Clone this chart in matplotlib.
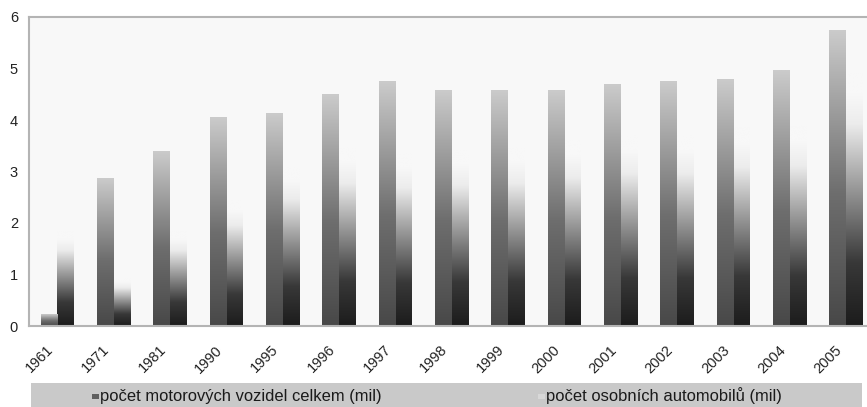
import numpy as np
import matplotlib
matplotlib.use("Agg")
import matplotlib.pyplot as plt
from matplotlib.colors import LinearSegmentedColormap
from matplotlib.patches import Rectangle
import matplotlib.transforms as mtransforms

plt.rcParams['font.family'] = ['Liberation Sans', 'DejaVu Sans']

years = ["1961", "1971", "1981", "1990", "1995", "1996", "1997", "1998",
         "1999", "2000", "2001", "2002", "2003", "2004", "2005"]
vozidla_celkem = [0.23, 2.87, 3.38, 4.04, 4.13, 4.49, 4.74, 4.58,
                  4.58, 4.58, 4.68, 4.74, 4.78, 4.97, 5.73]
osobni_auta = [1.84, 0.93, 1.84, 2.43, 3.07, 3.46, 3.34, 3.40,
               3.46, 3.60, 3.70, 3.70, 3.85, 3.90, 4.90]
legend_labels = ["počet motorových vozidel celkem (mil)",
                 "počet osobních automobilů (mil)"]

BG = "#f8f8f8"
cmap1 = LinearSegmentedColormap.from_list(
    "s1", [(0.0, "#484848"), (0.45, "#6e6e6e"), (1.0, "#cbcbcb")])
cmap2 = LinearSegmentedColormap.from_list(
    "s2", [(0.0, "#1c1c1c"), (0.25, "#383838"), (0.55, "#9a9a9a"),
           (0.8, "#ececec"), (0.92, BG), (1.0, BG)])

W, H = 867, 407
fig = plt.figure(figsize=(W / 100, H / 100), dpi=100)
fig.patch.set_facecolor("white")
ax = fig.add_axes([29 / W, (H - 326) / H, 845 / W, (326 - 17) / H])
ax.set_facecolor(BG)

grad = np.linspace(0, 1, 256).reshape(-1, 1)
bw = 0.29
x = np.arange(len(years))
for i in range(len(years)):
    for val, off, cm, z in ((vozidla_celkem[i], -bw / 2, cmap1, 3),
                            (osobni_auta[i], bw / 2, cmap2, 2)):
        x0 = x[i] + off - bw / 2
        ax.imshow(grad, extent=[x0, x0 + bw, 0, val], origin="lower",
                  aspect="auto", cmap=cm, zorder=z, interpolation="bilinear")

ax.set_xlim(-0.5, len(years) - 0.5)
ax.set_ylim(0, 6)
ax.set_yticks(range(7))
ax.tick_params(axis="y", length=0, labelsize=10.5, pad=8, colors="#222222")
ax.set_xticks(x)
ax.set_xticklabels(years)
ax.tick_params(axis="x", length=0, labelsize=10.5, pad=12, colors="#222222")
offset = mtransforms.ScaledTranslation(-11 / 100, 0, fig.dpi_scale_trans)
for lab in ax.get_xticklabels():
    lab.set_rotation(45)
    lab.set_ha("right")
    lab.set_va("top")
    lab.set_rotation_mode("anchor")
    lab.set_transform(lab.get_transform() + offset)

for s in ax.spines.values():
    s.set_color("#b4b4b4")
    s.set_linewidth(1.5)
    s.set_zorder(5)

# legend band
fig.patches.append(Rectangle((31 / W, 0), 831 / W, 24 / H, transform=fig.transFigure,
                             facecolor="#c9c9c9", edgecolor="none", zorder=0))
marker_cols = ["#5e5e5e", "#d8d8d8"]
marker_x = [92, 538]
for mx, mc, lab in zip(marker_x, marker_cols, legend_labels):
    fig.patches.append(Rectangle((mx / W, 8 / H), 7 / W, 5 / H, transform=fig.transFigure,
                                 facecolor=mc, edgecolor="none", zorder=1))
    fig.text((mx + 8) / W, 11 / H, lab, fontsize=11.9, ha="left", va="center",
             color="#1a1a1a")

fig.savefig("out.png", dpi=100)
